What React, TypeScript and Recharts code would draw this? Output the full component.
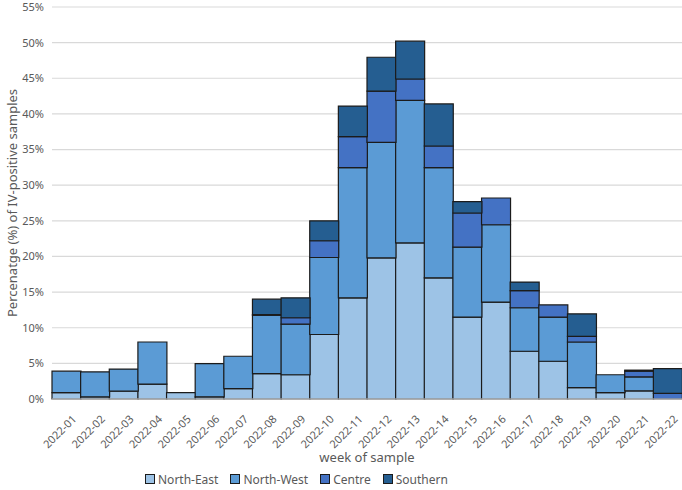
import React from "react";
import {
  Bar,
  BarChart,
  CartesianGrid,
  Legend,
  XAxis,
  YAxis,
} from "recharts";

const weeks = [
  "2022-01", "2022-02", "2022-03", "2022-04", "2022-05", "2022-06",
  "2022-07", "2022-08", "2022-09", "2022-10", "2022-11", "2022-12",
  "2022-13", "2022-14", "2022-15", "2022-16", "2022-17", "2022-18",
  "2022-19", "2022-20", "2022-21", "2022-22",
];

const northEast = [0.9, 0.3, 1.1, 2.1, 0.9, 0.3, 1.45, 3.55, 3.4, 9.05, 14.2, 19.8, 21.9, 17.0, 11.5, 13.6, 6.7, 5.3, 1.6, 0.9, 1.15, 0];
const northWest = [3.0, 3.5, 3.1, 5.9, 0, 4.65, 4.55, 8.2, 7.1, 10.8, 18.25, 16.2, 20.0, 15.45, 9.8, 10.85, 6.1, 6.2, 6.4, 2.5, 1.95, 0];
const centre = [0, 0, 0, 0, 0, 0, 0, 0.1, 0.9, 2.35, 4.35, 7.2, 3.0, 3.05, 4.8, 3.75, 2.4, 1.7, 0.8, 0, 0.8, 0.8];
const southern = [0, 0, 0, 0, 0, 0, 0, 2.15, 2.8, 2.8, 4.3, 4.75, 5.3, 5.9, 1.6, 0, 1.2, 0, 3.15, 0, 0.15, 3.45];

const yTicks = [0, 5, 10, 15, 20, 25, 30, 35, 40, 45, 50, 55];

const series = [
  { key: "ne", name: "North-East", color: "#9DC3E6", values: northEast },
  { key: "nw", name: "North-West", color: "#5B9BD5", values: northWest },
  { key: "ce", name: "Centre", color: "#4472C4", values: centre },
  { key: "so", name: "Southern", color: "#255E91", values: southern },
];

const data = weeks.map((week, i) => {
  const row: Record<string, string | number> = { week };
  series.forEach((s) => (row[s.key] = s.values[i]));
  return row;
});

const FONT = "'Noto Sans', 'Open Sans', sans-serif";
const TEXT = "#595959";

const WeekTick = ({ x, y, payload }: any) => (
  <text
    x={x + 4}
    y={y + 6}
    transform={`rotate(-45 ${x + 4} ${y + 6})`}
    textAnchor="end"
    dominantBaseline="hanging"
    fontSize={11}
    fill={TEXT}
    fontFamily={FONT}
  >
    {payload.value}
  </text>
);

const YTitle = ({ viewBox }: any) => {
  const cy = viewBox.y + viewBox.height / 2;
  return (
    <text
      x={14}
      y={cy}
      transform={`rotate(-90 14 ${cy})`}
      textAnchor="middle"
      dominantBaseline="middle"
      fontSize={13}
      fill={TEXT}
      fontFamily={FONT}
    >
      Percenatge (%) of IV-positive samples
    </text>
  );
};

const LegendBox = () => (
  <div
    style={{
      display: "flex",
      gap: 12,
      paddingLeft: 145,
      fontFamily: FONT,
      fontSize: 12,
      color: TEXT,
      height: 22,
      alignItems: "center",
    }}
  >
    {series.map((s) => (
      <span key={s.key} style={{ display: "flex", alignItems: "center" }}>
        <span
          style={{
            display: "inline-block",
            width: 8,
            height: 8,
            background: s.color,
            border: "1px solid #1b1b1b",
            marginRight: 3,
          }}
        />
        {s.name}
      </span>
    ))}
  </div>
);

export default function App() {
  return (
    <div style={{ position: "absolute", left: 0, top: 0, background: "#fff" }}>
      <BarChart
        width={682}
        height={490}
        data={data}
        barCategoryGap={0}
        margin={{ top: 7, right: 0, left: 0, bottom: 0 }}
      >
        <CartesianGrid vertical={false} stroke="#d9d9d9" strokeWidth={1.2} />
        <XAxis
          dataKey="week"
          interval={0}
          height={69}
          tick={<WeekTick />}
          tickLine={false}
          axisLine={{ stroke: "#d9d9d9" }}
          label={{
            value: "week of sample",
            position: "insideBottom",
            offset: 6,
            fontSize: 13,
            fill: TEXT,
            fontFamily: FONT,
          }}
        />
        <YAxis
          width={52}
          domain={[0, 55]}
          ticks={yTicks}
          tickFormatter={(v) => `${v}%`}
          tick={{ fontSize: 11, fill: TEXT, fontFamily: FONT }}
          tickLine={false}
          axisLine={false}
          label={<YTitle />}
        />
        <Legend verticalAlign="bottom" height={22} content={<LegendBox />} />
        {series.map((s) => (
          <Bar
            key={s.key}
            dataKey={s.key}
            name={s.name}
            stackId="a"
            fill={s.color}
            stroke="#1b1b1b"
            strokeWidth={1.2}
            isAnimationActive={false}
          />
        ))}
      </BarChart>
    </div>
  );
}
